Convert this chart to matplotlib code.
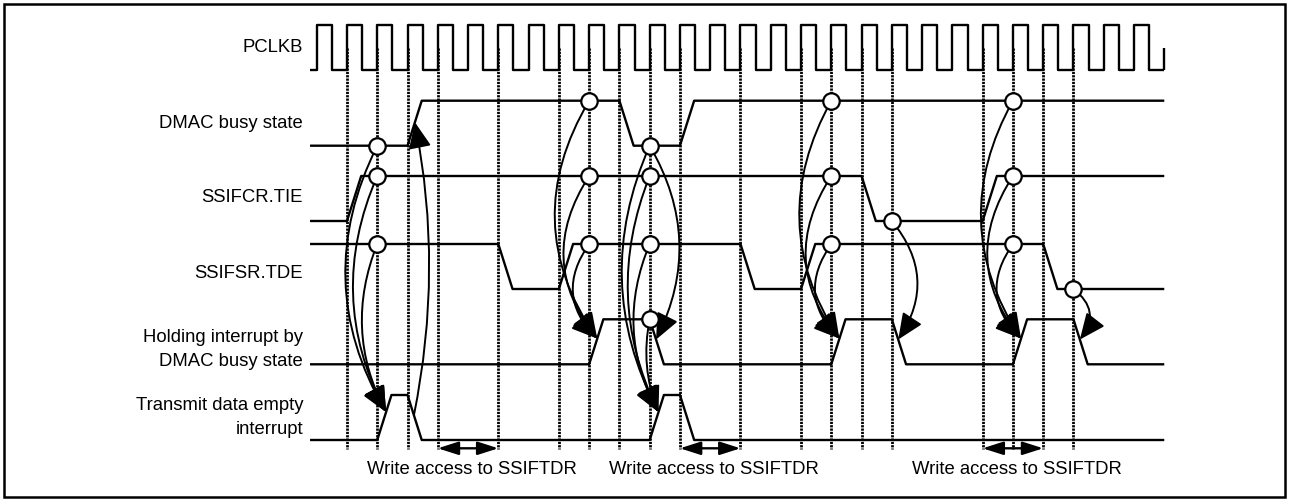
import matplotlib
matplotlib.use("Agg")
import matplotlib.pyplot as plt
from matplotlib.patches import FancyArrowPatch, ArrowStyle, Rectangle

# === Данные диаграммы (время в тактах PCLKB) ===
signal_names = ["PCLKB", "DMAC busy state", "SSIFCR.TIE", "SSIFSR.TDE",
                "Holding interrupt by\nDMAC busy state",
                "Transmit data empty\ninterrupt"]

clock_cycles = 28  # число периодов PCLKB

# начальный уровень и такты, на которых начинается переключение
dmac_init, dmac_edges = 0, [3, 10, 12]
tie_init, tie_edges = 0, [1, 18, 22]
tde_init, tde_edges = 1, [6, 8, 14, 16, 24]
hold_init, hold_edges = 0, [9, 11, 17, 19, 23, 25]
txi_init, txi_edges = 0, [2, 3, 11, 12]

# такты, где проведены пунктирные линии
marker_cycles = [1, 2, 3, 4, 6, 8, 9, 10, 11, 12, 14, 16, 17, 18, 19, 22, 23, 24, 25]

# кружки-события: (такт, номер сигнала)
event_points = [(2, 1), (9, 1), (11, 1), (17, 1), (23, 1),
                (2, 2), (9, 2), (11, 2), (17, 2), (19, 2), (23, 2),
                (2, 3), (9, 3), (11, 3), (17, 3), (23, 3), (25, 3),
                (11, 4)]

# стрелки: (откуда, куда, изгиб); точка = (такт, сигнал, доля фронта)
arrows = [
    ((2, 1, 0), (2, 5, 0.62), 0.27),
    ((2, 2, 0), (2, 5, 0.62), 0.24),
    ((2, 3, 0), (2, 5, 0.62), 0.23),
    ((3, 5, 0.45), (3, 1, 0.52), 0.10),
    ((9, 1, 0), (9, 4, 0.57), 0.32),
    ((9, 2, 0), (9, 4, 0.57), 0.36),
    ((9, 3, 0), (9, 4, 0.57), 0.42),
    ((11, 1, 0), (11, 5, 0.62), 0.24),
    ((11, 2, 0), (11, 5, 0.62), 0.22),
    ((11, 3, 0), (11, 5, 0.62), 0.24),
    ((11, 4, 0), (11, 5, 0.62), 0.15),
    ((11, 1, 0), (11, 4, 0.45), -0.27),
    ((17, 1, 0), (17, 4, 0.57), 0.30),
    ((17, 2, 0), (17, 4, 0.57), 0.36),
    ((17, 3, 0), (17, 4, 0.57), 0.42),
    ((19, 2, 0), (19, 4, 0.45), -0.37),
    ((23, 1, 0), (23, 4, 0.57), 0.30),
    ((23, 2, 0), (23, 4, 0.57), 0.36),
    ((23, 3, 0), (23, 4, 0.57), 0.42),
    ((25, 3, 0), (25, 4, 0.45), -0.50),
]

# интервалы записи в SSIFTDR (начало, конец)
write_access = [(4, 6), (12, 14), (22, 24)]
write_text = "Write access to SSIFTDR"

# === Разметка (в пикселях) ===
W, H = 1290, 499
clk_x0, clk_period = 316.7, 30.27      # положение такта 0 и период
row_low = [70, 145.7, 221, 289, 364.3, 440]
amp = 45
sig_start, sig_end = -0.22, 28.0
tw = 0.47                               # длительность фронта
label_x = 303
label_y = [47, 123, 198, 274, 338, 406]
line_step = 23

plt.rcParams['font.family'] = ['Liberation Sans', 'DejaVu Sans']
plt.rcParams['lines.solid_capstyle'] = 'butt'
fs = 13.3
lw_sig = 1.7


def px2c(px):
    return (px - clk_x0) / clk_period


all_signals = {1: (dmac_init, dmac_edges), 2: (tie_init, tie_edges),
               3: (tde_init, tde_edges), 4: (hold_init, hold_edges),
               5: (txi_init, txi_edges)}


def level_before(sig, c):
    init, edges = all_signals[sig]
    n = sum(1 for e in edges if e < c)
    return init if n % 2 == 0 else 1 - init


def point(sig, c, frac):
    init, edges = all_signals[sig]
    lv = level_before(sig, c)
    if c in edges:
        return c + frac * tw, row_low[sig] - (lv + frac * (1 - 2 * lv)) * amp
    return c, row_low[sig] - lv * amp


def waveform(init, edges):
    level = init
    xs, ys = [sig_start], [level]
    for e in edges:
        xs += [e, e + tw]
        ys += [level, 1 - level]
        level = 1 - level
    xs.append(sig_end)
    ys.append(level)
    return xs, ys


fig = plt.figure(figsize=(W / 100, H / 100), dpi=100)
ax = fig.add_axes([0, 0, 1, 1])
ax.set_xlim(px2c(0), px2c(W))
ax.set_ylim(H, 0)
ax.axis('off')

# рамка
fig.patches.append(Rectangle((4 / W, 2.5 / H), 1281 / W, 492.5 / H,
                             transform=fig.transFigure, fill=False,
                             lw=1.8, edgecolor='black'))

# === Тактовый сигнал ===
cx, cy = [sig_start], [row_low[0]]
for k in range(clock_cycles):
    cx += [k, k, k + 0.5, k + 0.5]
    cy += [row_low[0], row_low[0] - amp, row_low[0] - amp, row_low[0]]
cx.append(clock_cycles)
cy.append(row_low[0])
ax.plot(cx, cy, color='black', lw=lw_sig)
ax.plot([clock_cycles, clock_cycles], [row_low[0], row_low[0] - amp / 2],
        color='black', lw=lw_sig)

# === Остальные сигналы ===
for sig in range(1, 6):
    xs, ys = waveform(*all_signals[sig])
    ax.plot(xs, [row_low[sig] - v * amp for v in ys], color='black', lw=lw_sig)

# пунктирные линии
ax.vlines(marker_cycles, 48, 449, colors='black', linewidth=2.0,
          linestyles=[(0, (0.8, 0.4))], zorder=1)

# подписи сигналов
for i, name in enumerate(signal_names):
    for j, line in enumerate(name.split("\n")):
        ax.text(px2c(label_x), label_y[i] + j * line_step, line, ha='right',
                va='center', fontsize=fs)

# === Стрелки ===
head = ArrowStyle('-|>', head_length=16, head_width=7)
for (sc, ss, sf), (dc, ds, df), rad in arrows:
    p1 = point(ss, sc, sf)
    p2 = point(ds, dc, df)
    ax.add_patch(FancyArrowPatch(p1, p2, arrowstyle=head,
                                 connectionstyle=f'arc3,rad={rad}',
                                 mutation_scale=1, lw=1.4, color='black',
                                 shrinkA=0, shrinkB=0, zorder=3))

# кружки
for c, sig in event_points:
    x, y = point(sig, c, 0)
    ax.scatter(x, y, s=140, facecolor='white', edgecolor='black',
               linewidths=1.6, zorder=5)

# интервалы записи
dbl = ArrowStyle('<|-|>', head_length=12.5, head_width=4)
for a, b in write_access:
    ax.add_patch(FancyArrowPatch((a, 448.3), (b, 448.3), arrowstyle=dbl,
                                 mutation_scale=1, lw=1.7, color='black',
                                 shrinkA=0, shrinkB=0, zorder=3))
    ax.annotate(write_text, xy=((a + b) / 2, 470), xytext=(3, 0),
                textcoords='offset points', ha='center', va='center',
                fontsize=fs)

fig.savefig("out.png", dpi=100)
